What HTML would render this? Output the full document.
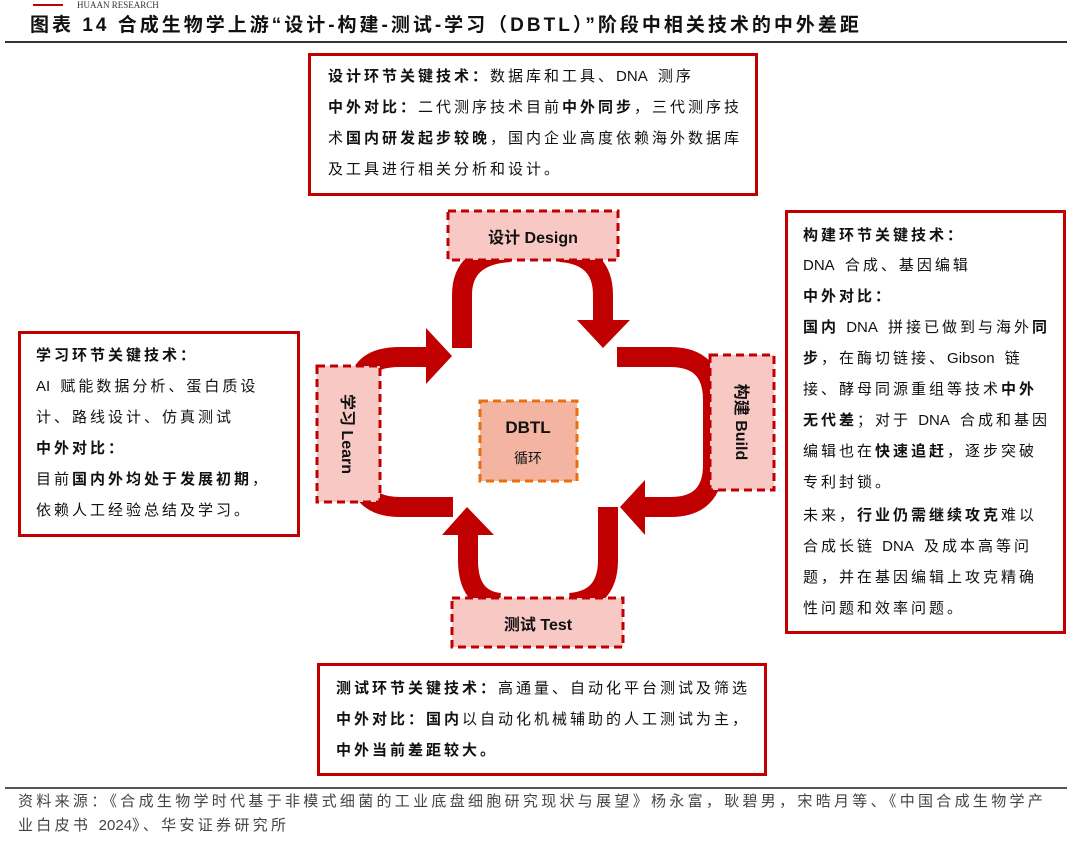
<!DOCTYPE html>
<html><head><meta charset="utf-8"><style>
body{margin:0;width:1072px;height:849px;background:#fff;position:relative;overflow:hidden;font-family:"Liberation Sans","Noto Sans CJK SC",sans-serif;color:#111}
.l{position:absolute;font-size:15px;line-height:30px;height:30px;white-space:nowrap;letter-spacing:3px}
.n{letter-spacing:0;font-style:normal;margin-right:3px}
b{font-weight:bold}
.box{position:absolute;border:3px solid #c00000;box-sizing:border-box}
</style></head><body>
<div style="position:absolute;left:33px;top:4px;width:30px;height:2px;background:#c00000"></div>
<div style="position:absolute;left:77px;top:0px;font-family:'Liberation Serif',serif;font-size:9px;color:#333;line-height:10px">HUAAN RESEARCH</div>
<div style="position:absolute;left:30px;top:13px;font-size:19px;font-weight:bold;line-height:26px;white-space:nowrap;letter-spacing:3px">图表 14 合成生物学上游“设计-构建-测试-学习（DBTL）”阶段中相关技术的中外差距</div>
<div style="position:absolute;left:5px;top:41px;width:1062px;height:2px;background:#333"></div>

<div class="box" style="left:308px;top:53px;width:450px;height:143px"></div>
<div class="l" style="left:328px;top:62px"><b>设计环节关键技术：</b>数据库和工具、<i class="n">DNA</i> 测序</div>
<div class="l" style="left:328px;top:93px"><b>中外对比：</b>二代测序技术目前<b>中外同步</b>，三代测序技</div>
<div class="l" style="left:328px;top:124px">术<b>国内研发起步较晚</b>，国内企业高度依赖海外数据库</div>
<div class="l" style="left:328px;top:155px">及工具进行相关分析和设计。</div>

<div class="box" style="left:785px;top:210px;width:281px;height:424px"></div>
<div class="l" style="left:803px;top:221px"><b>构建环节关键技术：</b></div>
<div class="l" style="left:803px;top:251px"><i class="n">DNA</i> 合成、基因编辑</div>
<div class="l" style="left:803px;top:282px"><b>中外对比：</b></div>
<div class="l" style="left:803px;top:313px"><b>国内</b> <i class="n">DNA</i> 拼接已做到与海外<b>同</b></div>
<div class="l" style="left:803px;top:344px"><b>步</b>，在酶切链接、<i class="n">Gibson</i> 链</div>
<div class="l" style="left:803px;top:375px">接、酵母同源重组等技术<b>中外</b></div>
<div class="l" style="left:803px;top:406px"><b>无代差</b>；对于 <i class="n">DNA</i> 合成和基因</div>
<div class="l" style="left:803px;top:437px">编辑也在<b>快速追赶</b>，逐步突破</div>
<div class="l" style="left:803px;top:468px">专利封锁。</div>
<div class="l" style="left:803px;top:501px">未来，<b>行业仍需继续攻克</b>难以</div>
<div class="l" style="left:803px;top:532px">合成长链 <i class="n">DNA</i> 及成本高等问</div>
<div class="l" style="left:803px;top:563px">题，并在基因编辑上攻克精确</div>
<div class="l" style="left:803px;top:594px">性问题和效率问题。</div>

<div class="box" style="left:18px;top:331px;width:282px;height:206px"></div>
<div class="l" style="left:36px;top:341px"><b>学习环节关键技术：</b></div>
<div class="l" style="left:36px;top:372px"><i class="n">AI</i> 赋能数据分析、蛋白质设</div>
<div class="l" style="left:36px;top:403px">计、路线设计、仿真测试</div>
<div class="l" style="left:36px;top:434px"><b>中外对比：</b></div>
<div class="l" style="left:36px;top:465px">目前<b>国内外均处于发展初期</b>，</div>
<div class="l" style="left:36px;top:496px">依赖人工经验总结及学习。</div>

<div class="box" style="left:317px;top:663px;width:450px;height:113px"></div>
<div class="l" style="left:336px;top:674px"><b>测试环节关键技术：</b>高通量、自动化平台测试及筛选</div>
<div class="l" style="left:336px;top:705px"><b>中外对比：国内</b>以自动化机械辅助的人工测试为主，</div>
<div class="l" style="left:336px;top:736px"><b>中外当前差距较大。</b></div>

<svg style="position:absolute;left:0;top:0" width="1072" height="849">
<g fill="none" stroke="#c00000" stroke-width="20">
<path d="M462 348 V295 Q462 255 510 252"/>
<path d="M560 252 Q603 255 603 295 V322"/>
<path d="M617 357 H670 Q713 357 713 400 V465 Q713 507 670 507 H643"/>
<path d="M608 507 V560 Q608 600 570 603"/>
<path d="M500 603 Q468 600 468 560 V533"/>
<path d="M453 507 H400 Q365 507 360 480"/>
<path d="M360 380 Q365 357 400 357 H428"/>
</g>
<g fill="#c00000">
<polygon points="577,320 630,320 603,348"/>
<polygon points="645,480 645,535 620,507"/>
<polygon points="442,535 494,535 467,507"/>
<polygon points="426,328 426,384 452,356"/>
</g>
<g fill="#f8c8c4" stroke="#c00000" stroke-width="3" stroke-dasharray="8,5">
<rect x="448" y="211" width="170" height="49"/>
<rect x="710" y="355" width="64" height="135"/>
<rect x="317" y="366" width="63" height="136"/>
<rect x="452" y="598" width="171" height="49"/>
</g>
<rect x="480" y="401" width="97" height="80" fill="#f3b4a2" stroke="#e87010" stroke-width="3" stroke-dasharray="8,5"/>
<g font-family="Liberation Sans,Noto Sans CJK SC,sans-serif" font-weight="bold" fill="#111">
<text x="533" y="243" font-size="16" text-anchor="middle">设计 Design</text>
<text x="538" y="630" font-size="16" text-anchor="middle">测试 Test</text>
<text x="528" y="433" font-size="17" text-anchor="middle">DBTL</text>
<text x="528" y="463" font-size="14" text-anchor="middle" font-weight="normal">循环</text>
<text transform="translate(736,422) rotate(90)" font-size="16" text-anchor="middle">构建 Build</text>
<text transform="translate(342,434) rotate(90)" font-size="16" text-anchor="middle">学习 Learn</text>
</g>
</svg>

<div style="position:absolute;left:5px;top:787px;width:1062px;height:2px;background:#555"></div>
<div style="position:absolute;left:18px;top:790px;font-size:15px;line-height:24px;color:#444;white-space:nowrap;letter-spacing:3.3px">资料来源：《合成生物学时代基于非模式细菌的工业底盘细胞研究现状与展望》杨永富，耿碧男，宋晧月等、《中国合成生物学产<br>业白皮书 <span style="letter-spacing:0">2024</span>》、华安证券研究所</div>
</body></html>
